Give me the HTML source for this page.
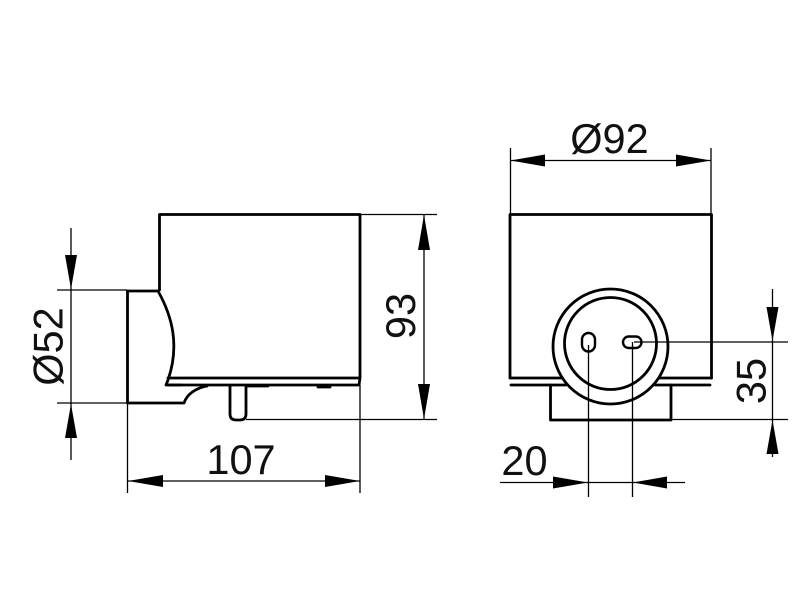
<!DOCTYPE html>
<html>
<head>
<meta charset="utf-8">
<style>
html,body{margin:0;padding:0;background:#fff;width:800px;height:600px;overflow:hidden}
svg{display:block}
text{font-family:"Liberation Sans",sans-serif;font-size:41.5px;fill:#111;text-anchor:middle}
.o{fill:none;stroke:#000;stroke-width:2.8;stroke-linejoin:round;stroke-linecap:round}
.t{fill:none;stroke:#000;stroke-width:1.3}
.a{fill:#000;stroke:none}
</style>
</head>
<body>
<svg width="800" height="600" viewBox="0 0 800 600" xmlns="http://www.w3.org/2000/svg">
<!-- left view outlines -->
<path class="o" d="M159.5 290V214.5H360V378M168 378H360M168 385H359L360 378"/>
<path class="o" d="M158 291H127.5V403H184C187 394 196 388 207 386"/>
<path class="o" d="M158 291C172 316 180 345 168 380L166 385H181"/>
<path class="o" d="M230 386V414Q230 420 236 420H240Q246 420 246 414V386"/>
<path class="o" d="M248 386H268M318 387H330"/>
<!-- right view outlines -->
<path class="o" d="M510 378V214.5H711.5V378"/>
<path class="o" d="M510 378H563M658 378H711.5M511 385H566M655 385H710"/>
<path class="o" d="M550.5 385V420H671V385"/>
<circle cx="610.5" cy="346.5" r="57.5" fill="#fff" stroke="#000" stroke-width="2.8"/>
<circle cx="610.5" cy="343.5" r="46" fill="none" stroke="#000" stroke-width="2.8"/>
<rect x="582" y="333" width="13" height="18.5" rx="6.5" fill="none" stroke="#000" stroke-width="2.4"/>
<rect x="623" y="336.5" width="18.5" height="11.5" rx="5.7" fill="none" stroke="#000" stroke-width="2.4"/>
<!-- extension lines -->
<path class="t" d="M127.5 403V493M360 385V493M57 290H127M57 403H127M360 214.5H437M246 419.5H437"/>
<path class="t" d="M510.5 148V214M711 148V214M588.5 345V497M632.5 342V497M634 342H788M671 419.5H788"/>
<!-- dimension lines -->
<path class="t" d="M127.5 481H360M424 215V419M71 228V460M510.5 160.5H711M500 482.5H685M772.5 289V457"/>
<!-- arrowheads -->
<path class="a" d="M128 481L163 475V487Z"/>
<path class="a" d="M360 481L325 475V487Z"/>
<path class="a" d="M424 215L418 250H430Z"/>
<path class="a" d="M424 419L418 384H430Z"/>
<path class="a" d="M71 289L65 255H77Z"/>
<path class="a" d="M71 404L65 438H77Z"/>
<path class="a" d="M510.5 160.5L545 154.5V166.5Z"/>
<path class="a" d="M711 160.5L676 154.5V166.5Z"/>
<path class="a" d="M588 482.5L553 476.5V488.5Z"/>
<path class="a" d="M633 482.5L667 476.5V488.5Z"/>
<path class="a" d="M772.5 341L766.5 307H778.5Z"/>
<path class="a" d="M772.5 420L766.5 454H778.5Z"/>
<!-- labels -->
<text x="241" y="474">107</text>
<text x="609.5" y="153">Ø92</text>
<text x="524.5" y="475">20</text>
<text transform="translate(415 316) rotate(-90)">93</text>
<text transform="translate(62.5 346.5) rotate(-90)">Ø52</text>
<text transform="translate(765.5 381) rotate(-90)">35</text>
</svg>
</body>
</html>
